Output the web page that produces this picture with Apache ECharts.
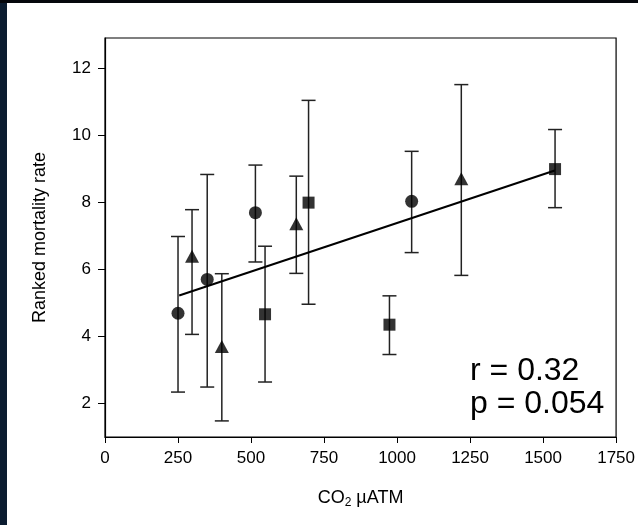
<!DOCTYPE html>
<html>
<head>
<meta charset="utf-8">
<script src="https://cdn.jsdelivr.net/npm/echarts@6/dist/echarts.min.js"></script>
<style>
  html, body { margin: 0; padding: 0; background: #fff; }
  #main { width: 638px; height: 525px; }
</style>
</head>
<body>
<div id="main"></div>
<script>
// x tick labels
var xTicks = [0, 250, 500, 750, 1000, 1250, 1500, 1750];
var yTicks = [2, 4, 6, 8, 10, 12];

// circles: co2, rank, low, high
var circleX = [250, 350, 515, 1050];
var circleY = [4.69, 5.70, 7.69, 8.03];
var circleLo = [2.34, 2.49, 6.22, 6.50];
var circleHi = [6.98, 8.83, 9.11, 9.52];

// triangles
var triX = [298, 400, 655, 1220];
var triY = [6.39, 3.70, 7.36, 8.70];
var triLo = [4.06, 1.48, 5.88, 5.82];
var triHi = [7.78, 5.87, 8.78, 11.51];

// squares
var sqX = [548, 697, 974, 1541];
var sqY = [4.66, 7.99, 4.35, 8.99];
var sqLo = [2.64, 4.96, 3.46, 7.84];
var sqHi = [6.69, 11.04, 5.21, 10.17];

// regression line ends
var fitX = [254, 1540];
var fitY = [5.22, 8.95];

var font = 'Liberation Sans';

function pairs(xs, ys) {
    var out = [];
    for (var i = 0; i < xs.length; i++) out.push([xs[i], ys[i]]);
    return out;
}
function bars(xs, lo, hi) {
    var out = [];
    for (var i = 0; i < xs.length; i++) out.push([xs[i], lo[i], hi[i]]);
    return out;
}

var errData = bars(circleX, circleLo, circleHi)
    .concat(bars(triX, triLo, triHi))
    .concat(bars(sqX, sqLo, sqHi));

function renderErr(params, api) {
    var lo = api.coord([api.value(0), api.value(1)]);
    var hi = api.coord([api.value(0), api.value(2)]);
    var w = 7;
    var st = { stroke: '#222', lineWidth: 1.5 };
    return {
        type: 'group',
        children: [
            { type: 'line', shape: { x1: lo[0], y1: lo[1], x2: hi[0], y2: hi[1] }, style: st },
            { type: 'line', shape: { x1: lo[0] - w, y1: lo[1], x2: lo[0] + w, y2: lo[1] }, style: st },
            { type: 'line', shape: { x1: hi[0] - w, y1: hi[1], x2: hi[0] + w, y2: hi[1] }, style: st }
        ]
    };
}

var chart = echarts.init(document.getElementById('main'));
chart.setOption({
    backgroundColor: '#fff',
    animation: false,
    grid: { left: 105, right: 21, top: 38, bottom: 88, show: true, borderColor: '#000', borderWidth: 1.2, backgroundColor: '#fff' },
    xAxis: {
        type: 'value', min: 0, max: 1750, interval: 250,
        axisLine: { show: true, onZero: false, lineStyle: { color: '#000', width: 1.2 } },
        axisTick: { show: true, length: 6, lineStyle: { color: '#000' } },
        axisLabel: { color: '#000', fontFamily: font, fontSize: 17, margin: 13, formatter: function (v) { return String(v); } },
        splitLine: { show: false },
        name: '{a|CO}{s|2}{a| µATM}',
        nameLocation: 'middle', nameGap: 50,
        nameTextStyle: {
            rich: {
                a: { fontFamily: font, fontSize: 18, color: '#000' },
                s: { fontFamily: font, fontSize: 12, color: '#000', verticalAlign: 'bottom', padding: [10, 0, 0, 0] }
            }
        }
    },
    yAxis: {
        type: 'value', min: 1, max: 12.9,
        axisLine: { show: true, onZero: false, lineStyle: { color: '#000', width: 1.2 } },
        axisTick: { show: true, length: 7, customValues: yTicks, lineStyle: { color: '#000' } },
        axisLabel: { color: '#000', fontFamily: font, fontSize: 17, margin: 14, customValues: yTicks },
        splitLine: { show: false },
        name: 'Ranked mortality rate',
        nameLocation: 'middle', nameGap: 56,
        nameTextStyle: { fontFamily: font, fontSize: 18, color: '#000' }
    },
    graphic: [
        { type: 'rect', shape: { x: 0, y: 0, width: 7, height: 525 }, style: { fill: '#0b1c30' }, z: 100 },
        { type: 'rect', shape: { x: 0, y: 0, width: 638, height: 3 }, style: { fill: '#05070c' }, z: 100 },
        { type: 'text', left: 470, top: 355, style: { text: 'r = 0.32', fontFamily: font, fontSize: 32, fill: '#000' } },
        { type: 'text', left: 470, top: 388, style: { text: 'p = 0.054', fontFamily: font, fontSize: 32, fill: '#000' } }
    ],
    series: [
        { type: 'custom', renderItem: renderErr, data: errData, encode: { x: 0, y: [1, 2] }, z: 2 },
        { type: 'line', data: pairs(fitX, fitY), symbol: 'none', lineStyle: { color: '#000', width: 2 }, z: 3 },
        { type: 'scatter', data: pairs(circleX, circleY), symbol: 'circle', symbolSize: 13, itemStyle: { color: '#000' }, z: 4 },
        { type: 'scatter', data: pairs(triX, triY), symbol: 'triangle', symbolSize: [14, 13], itemStyle: { color: '#000' }, z: 4 },
        { type: 'scatter', data: pairs(sqX, sqY), symbol: 'rect', symbolSize: 12, itemStyle: { color: '#000' }, z: 4 }
    ]
});
</script>
</body>
</html>
